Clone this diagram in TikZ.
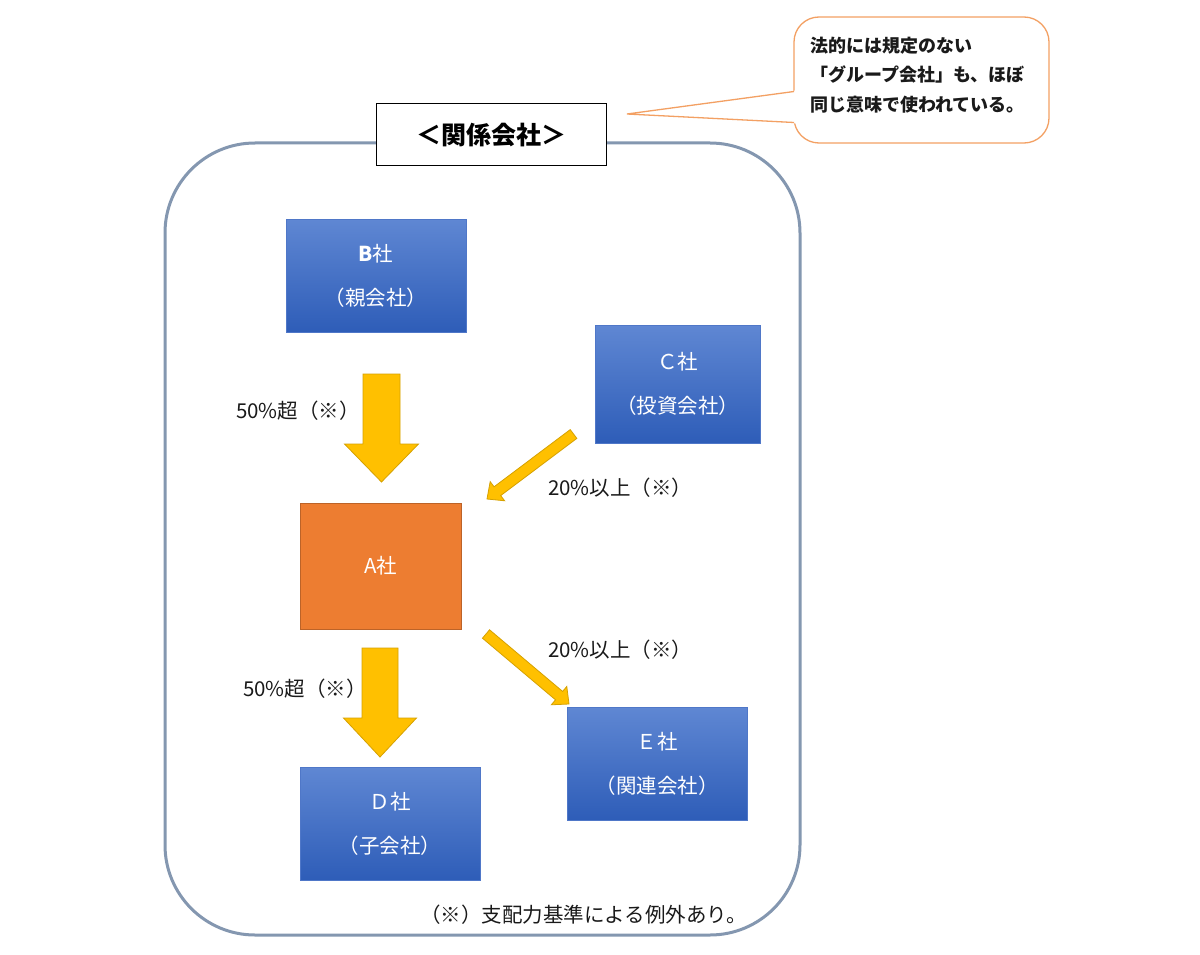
\documentclass[tikz,border=0pt]{standalone}
\usepackage{fontspec}
\setmainfont{Noto Sans CJK JP}
\usetikzlibrary{calc}
\definecolor{framec}{HTML}{8497B0}
\definecolor{bluetop}{HTML}{5F87D3}
\definecolor{bluebot}{HTML}{2E5DB8}
\definecolor{bluedge}{HTML}{4F77C8}
\definecolor{orangef}{HTML}{ED7D31}
\definecolor{oranged}{HTML}{BC6328}
\definecolor{arrowf}{HTML}{FFC000}
\definecolor{arrowd}{HTML}{D6A100}
\definecolor{calloutc}{HTML}{F3A063}
\definecolor{textc}{HTML}{1A1A1A}
\tikzset{
  bluebox/.style={rectangle, top color=bluetop, bottom color=bluebot, draw=bluedge, line width=0.6pt,
    text=white, align=center, font=\fontsize{20.5}{44}\selectfont, inner sep=0pt},
  orangebox/.style={rectangle, fill=orangef, draw=oranged, line width=1pt, text=white,
    font=\fontsize{20.5}{24}\selectfont, inner sep=0pt},
  lbl/.style={anchor=west, inner sep=0pt, text=textc, font=\fontsize{20.5}{24}\selectfont},
  blockarrow/.style={fill=arrowf, draw=arrowd, line width=0.8pt, line join=miter},
}
\newcommand\blockarr[5]{%
  \coordinate (#1-#2-h) at ($(#2)!#5!(#1)$);
  \filldraw[blockarrow] ($(#1)!#3!90:(#2)$) -- ($(#1-#2-h)!#3!90:(#2)$) -- ($(#1-#2-h)!#4!90:(#2)$)
    -- (#2) -- ($(#1-#2-h)!#4!-90:(#2)$) -- ($(#1-#2-h)!#3!-90:(#2)$) -- ($(#1)!#3!-90:(#2)$) -- cycle;}
\begin{document}
\begin{tikzpicture}[x=1pt,y=-1pt]
\useasboundingbox (0,0) rectangle (1200,955);
\fill[white] (0,0) rectangle (1200,955);

% big frame
\node[draw=framec, line width=3pt, rounded corners=90pt, minimum width=635pt, minimum height=792pt, inner sep=0pt] (frame) at (482.5,539) {};

% title
\node[draw=black, fill=white, line width=1pt, minimum width=230pt, minimum height=62pt, inner sep=0pt,
  font=\fontsize{25}{28}\selectfont\bfseries] (title) at (491,135) {＜関係会社＞};

% callout
\node[draw=calloutc, fill=white, line width=1.3pt, rounded corners=25pt, minimum width=255pt, minimum height=126pt, inner sep=0pt] (note) at (921.5,80) {};
\coordinate (ntip) at (627,114);
\coordinate (nb1) at (794,91.5);
\coordinate (nb2) at (794,122.5);
\fill[white] (ntip) -- ($(nb1)+(2,-1)$) -- ($(nb2)+(2,1)$) -- cycle;
\draw[calloutc, line width=1.3pt, line join=miter] (nb1) -- (ntip) -- (nb2);
\node[anchor=west, inner sep=0pt, align=left, text=textc, font=\fontsize{18}{29.5}\selectfont\bfseries] (notetext) at (810,75)
  {法的には規定のない\\「グループ会社」も、ほぼ\\同じ意味で使われている。};

% boxes
\node[bluebox, minimum width=180pt, minimum height=113pt] (B) at (376,275.5) {\textbf{B}社\\（親会社）};
\node[bluebox, minimum width=165pt, minimum height=118pt] (C) at (677.5,384) {Ｃ社\\（投資会社）};
\node[orangebox, minimum width=161pt, minimum height=126pt] (A) at (380.5,566) {A社};
\node[bluebox, minimum width=180pt, minimum height=113pt] (D) at (390,823.5) {Ｄ社\\（子会社）};
\node[bluebox, minimum width=180pt, minimum height=113pt] (E) at (657,763.5) {Ｅ社\\（関連会社）};

% arrows
\coordinate (ba1) at (381.5,374);
\coordinate (ba2) at (381.5,482);
\blockarr{ba1}{ba2}{18.5pt}{37pt}{38pt}
\coordinate (ca1) at (573.5,434);
\coordinate (ca2) at (487,499);
\blockarr{ca1}{ca2}{5.5pt}{12pt}{13pt}
\coordinate (ae1) at (486,634);
\coordinate (ae2) at (569,704);
\blockarr{ae1}{ae2}{5.5pt}{12pt}{13pt}
\coordinate (ad1) at (380,648);
\coordinate (ad2) at (380,757);
\blockarr{ad1}{ad2}{18pt}{36.5pt}{39pt}

% labels
\node[lbl] (l1) at (236,411) {50\%超（※）};
\node[lbl] (l2) at (548,488) {20\%以上（※）};
\node[lbl] (l3) at (548,650) {20\%以上（※）};
\node[lbl] (l4) at (243,689) {50\%超（※）};
\node[lbl] (fn) at (420,915) {（※）支配力基準による例外あり。};
\end{tikzpicture}
\end{document}
